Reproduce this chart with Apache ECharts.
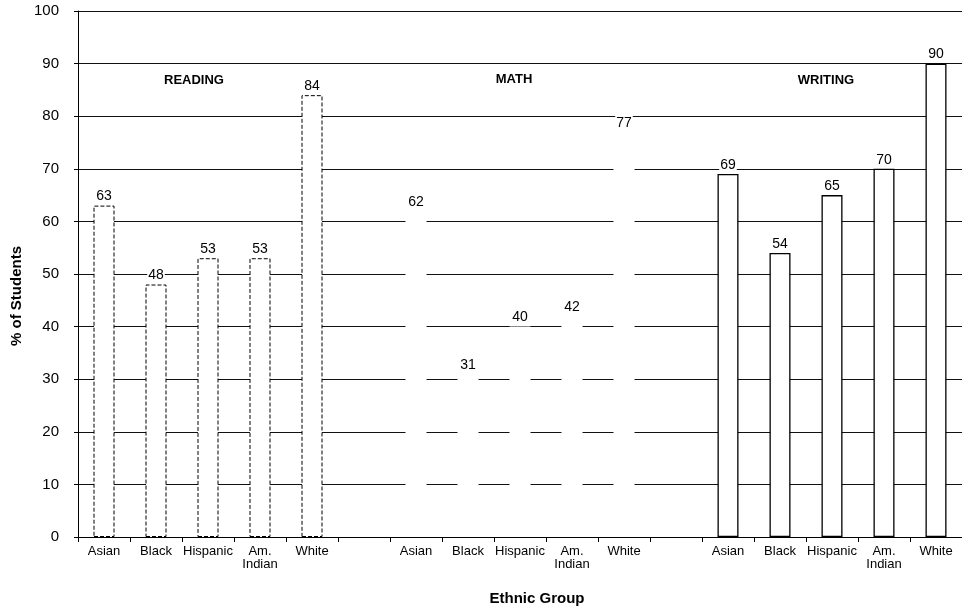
<!DOCTYPE html>
<html>
<head>
<meta charset="utf-8">
<script src="https://cdn.jsdelivr.net/npm/echarts@6/dist/echarts.min.js"></script>
<style>
html,body{margin:0;padding:0;background:#fff;}
#chart{width:962px;height:608px;}
</style>
</head>
<body>
<div id="chart"></div>
<script>
// ---- data ----
var groups = ['READING', 'MATH', 'WRITING'];
var ethnicGroups = ['Asian', 'Black', 'Hispanic', 'Am.\nIndian', 'White'];
var reading = [63, 48, 53, 53, 84];
var math = [62, 31, 40, 42, 77];
var writing = [69, 54, 65, 70, 90];
var yTicks = [0, 10, 20, 30, 40, 50, 60, 70, 80, 90, 100];

// ---- build categories (5 per group, blank slot between groups) ----
var categories = [];
var catLabels = [];
groups.forEach(function (g, gi) {
  if (gi > 0) { categories.push('gap' + gi); catLabels.push(''); }
  ethnicGroups.forEach(function (e) { categories.push(g + ':' + e); catLabels.push(e); });
});
function seriesData(values, gi) {
  var arr = categories.map(function () { return null; });
  values.forEach(function (v, i) { arr[gi * 6 + i] = v; });
  return arr;
}

var FONT = '"Liberation Sans", Arial, Helvetica, sans-serif';
var chart = echarts.init(document.getElementById('chart'), null, { renderer: 'canvas' });

var labelStyle = {
  show: true, position: 'top', distance: 2, color: '#000', fontSize: 14, fontFamily: FONT,
  backgroundColor: '#fff', padding: [1, 1, 0, 1]
};

chart.setOption({
  animation: false,
  backgroundColor: '#fff',
  grid: { left: 78, right: -8, top: 11, bottom: 71, containLabel: false },
  xAxis: {
    type: 'category',
    data: categories,
    axisLine: { lineStyle: { color: '#000', width: 1 } },
    axisTick: { show: true, length: 5, lineStyle: { color: '#000' } },
    axisLabel: {
      interval: 0, margin: 8, color: '#000', fontSize: 13, lineHeight: 13, fontFamily: FONT,
      formatter: function (v, idx) { return catLabels[idx]; }
    },
    splitLine: { show: false }
  },
  yAxis: {
    type: 'value',
    min: yTicks[0], max: yTicks[yTicks.length - 1], interval: 10,
    axisLine: { show: true, lineStyle: { color: '#000', width: 1 } },
    axisTick: { show: true, length: 4, lineStyle: { color: '#000' } },
    axisLabel: { margin: 19, color: '#000', fontSize: 15, fontFamily: FONT },
    splitLine: { show: true, lineStyle: { color: '#111', width: 1 } }
  },
  series: [
    {
      name: groups[0], type: 'bar', barWidth: 21, barGap: '-100%',
      data: seriesData(reading, 0),
      itemStyle: { color: '#fff', borderColor: '#000', borderWidth: 1, borderType: [4, 2] },
      label: labelStyle
    },
    {
      name: groups[1], type: 'bar', barWidth: 21, barGap: '-100%',
      data: seriesData(math, 1),
      itemStyle: { color: '#fff', borderWidth: 0 },
      label: labelStyle
    },
    {
      name: groups[2], type: 'bar', barWidth: 21, barGap: '-100%',
      data: seriesData(writing, 2),
      itemStyle: { color: '#fff', borderColor: '#000', borderWidth: 1.3 },
      label: labelStyle
    }
  ],
  graphic: [
    { type: 'text', x: 194, y: 80, style: { text: groups[0], font: 'bold 13px ' + FONT, fill: '#000', align: 'center', verticalAlign: 'middle' }, z: 100 },
    { type: 'text', x: 514, y: 79, style: { text: groups[1], font: 'bold 13px ' + FONT, fill: '#000', align: 'center', verticalAlign: 'middle' }, z: 100 },
    { type: 'text', x: 826, y: 80, style: { text: groups[2], font: 'bold 13px ' + FONT, fill: '#000', align: 'center', verticalAlign: 'middle' }, z: 100 },
    { type: 'text', x: 17, y: 296, rotation: Math.PI / 2, style: { text: '% of Students', font: 'bold 15px ' + FONT, fill: '#000', align: 'center', verticalAlign: 'middle' }, z: 100 },
    { type: 'text', x: 537, y: 599, style: { text: 'Ethnic Group', font: 'bold 15px ' + FONT, fill: '#000', align: 'center', verticalAlign: 'middle' }, z: 100 }
  ]
});
</script>
</body>
</html>
